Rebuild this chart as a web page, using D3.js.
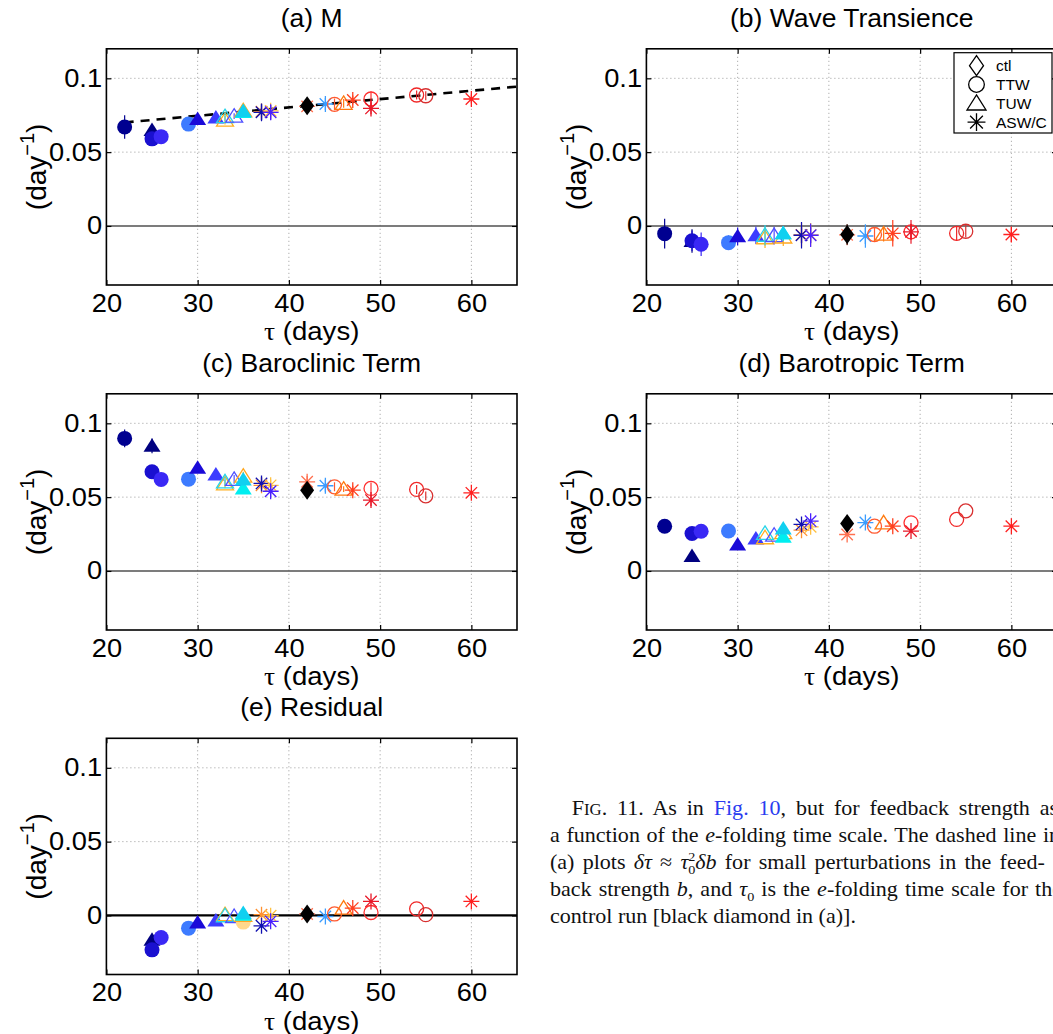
<!DOCTYPE html>
<html>
<head>
<meta charset="utf-8">
<script src="https://cdn.jsdelivr.net/npm/d3@7"></script>
<style>
  body { margin: 0; background: #fff; }
  svg { display: block; }
</style>
</head>
<body>
<svg id="fig" width="1053" height="1034"></svg>
<script>
// ---- Experiments: e-folding time scale and marker encoding ----
const tauDays = [22, 25, 25, 26, 29, 30, 32, 33, 33, 34, 35, 35, 35, 35, 37, 37, 38, 38, 42, 42, 44, 45, 46, 47, 49, 49, 54, 55, 60];
const markerKind = ["circleF", "triF", "circleF", "circleF", "circleF", "triF", "triF", "triO", "triO", "triO",
  "circleF", "triO", "triF", "triF", "star", "star", "star", "star", "star", "diamond",
  "star", "circleO", "triO", "star", "circleO", "star", "circleO", "circleO", "star"];
const markerColor = ["#000090", "#000080", "#1a10d0", "#3a28f5", "#3d7bff", "#1a0ad8", "#3c3cff", "#ffb020", "#28d4e8", "#5050ff",
  "#ffd88c", "#ffa820", "#00eef0", "#10d0f0", "#ff9030", "#1010b0", "#ffc040", "#4a20ff", "#ff7050", "#000000",
  "#3a9cff", "#ff5a30", "#ff7a10", "#ff4020", "#ff3030", "#e81828", "#f02828", "#d83030", "#ff2020"];

// ---- Feedback strength (day^-1) per panel ----
const feedbackM = [0.067, 0.065, 0.059, 0.0605, 0.069, 0.0725, 0.0735, 0.0717, 0.074, 0.0744,
  null, 0.078, 0.0772, 0.0778, 0.0775, 0.077, 0.078, 0.077, 0.081, 0.0814,
  0.0826, 0.0824, 0.083, 0.0853, 0.086, 0.0796, 0.0887, 0.0882, 0.086];
const waveTransience = [-0.0052, -0.0102, -0.010, -0.0124, -0.0113, -0.007, -0.0063, -0.008, -0.0063, -0.0065,
  null, -0.0075, -0.005, -0.005, -0.006, -0.0063, -0.006, -0.0063, -0.006, -0.0058,
  -0.0068, -0.0058, -0.0055, -0.005, -0.004, -0.004, -0.005, -0.0036, -0.0058];
const baroclinicTerm = [0.0898, 0.0848, 0.0672, 0.062, 0.0622, 0.0699, 0.0654, 0.059, 0.0604, 0.062,
  null, 0.0642, 0.0559, 0.062, 0.058, 0.0593, 0.058, 0.054, 0.0604, 0.0547,
  0.0577, 0.057, 0.0554, 0.0547, 0.0559, 0.048, 0.0552, 0.0509, 0.0529];
const barotropicTerm = [0.0303, 0.0102, 0.0254, 0.0269, 0.0271, 0.0179, 0.022, 0.0225, 0.0254, 0.0242,
  null, 0.026, 0.0231, 0.0288, 0.0276, 0.0315, 0.0299, 0.0337, 0.0247, 0.0321,
  0.0328, 0.0303, 0.0326, 0.0303, 0.0326, 0.027, 0.0349, 0.0407, 0.0303];
const residualTerm = [null, -0.0165, -0.0233, -0.0149, -0.0086, -0.0047, -0.0034, 0.0005, -0.0002, -0.0007,
  -0.0045, 0.0, 0.0005, 0.0016, 0.0005, -0.007, -0.0002, -0.004, 0.001, 0.001,
  -0.0007, 0.001, 0.005, 0.005, 0.002, 0.0095, 0.0045, 0.0005, 0.0095];

// ---- Half-widths of the uncertainty bars ----
const errM = [0.008, 0.004, 0.004, 0.004, 0.003, 0.002, 0.002, 0.003, 0.003, 0.002,
  0, 0.002, 0.002, 0.002, 0.004, 0.006, 0.004, 0.005, 0.002, 0.002,
  0.004, 0.004, 0.003, 0.003, 0.005, 0.004, 0.003, 0.003, 0.003];
const errWave = [0.010, 0.008, 0.007, 0.008, 0.005, 0.006, 0.006, 0.007, 0.007, 0.006,
  0, 0.006, 0.005, 0.005, 0.008, 0.009, 0.008, 0.008, 0.007, 0.007,
  0.008, 0.005, 0.005, 0.009, 0.005, 0.008, 0.005, 0.004, 0.005];
const errBaroclinic = [0.006, 0.005, 0.004, 0.003, 0.002, 0.003, 0.003, 0.003, 0.003, 0.003,
  0, 0.003, 0.003, 0.003, 0.003, 0.004, 0.004, 0.004, 0.004, 0.002,
  0.004, 0.003, 0.002, 0.003, 0.004, 0.004, 0.003, 0.003, 0.002];

// ---- Small-perturbation estimate shown in (a) ----
const dashTau = [22, 65];
const dashB = [0.0701, 0.0944];

// ---- Axis ticks and legend ----
const xTicks = [20, 30, 40, 50, 60];
const yTicks = [0, 0.05, 0.1];
const legendLabels = ["ctl", "TTW", "TUW", "ASW/C"];
const legendKinds = ["diamondO", "circleO", "triO", "star"];

// ---- Layout ----
const PW = 410.6, PH = 236.2;
const panels = [
  { title: "(a) M", vals: feedbackM, err: errM, x0: 106.4, y0: 48.8, dashed: true },
  { title: "(b) Wave Transience", vals: waveTransience, err: errWave, x0: 646.4, y0: 48.8, legend: true },
  { title: "(c) Baroclinic Term", vals: baroclinicTerm, err: errBaroclinic, x0: 106.4, y0: 393.8 },
  { title: "(d) Barotropic Term", vals: barotropicTerm, err: null, x0: 646.4, y0: 393.8 },
  { title: "(e) Residual", vals: residualTerm, err: null, x0: 106.4, y0: 738.3, boldZero: true }
];

const svg = d3.select("#fig");
const SANS = "'Liberation Sans', Arial, Helvetica, sans-serif";

function markerPath(kind, k) {
  switch (kind) {
    case "triF": case "triO": return `M0,${-7.5 * k}L${8.5 * k},${6 * k}L${-8.5 * k},${6 * k}Z`;
    case "diamond": return "M0,-9.5L7,0L0,9.5L-7,0Z";
    case "diamondO": return "M0,-10L7,0L0,10L-7,0Z";
    case "star": {
      const a = 8 * k, d = 5.7 * k;
      return `M${-a},0H${a}M0,${-a}V${a}M${-d},${-d}L${d},${d}M${-d},${d}L${d},${-d}`;
    }
  }
  return null;
}

function drawMarker(g, kind, color, cx, cy, k = 1) {
  const t = `translate(${cx},${cy})`;
  if (kind === "circleF") {
    g.append("circle").attr("cx", cx).attr("cy", cy).attr("r", 7.5 * k).attr("fill", color);
  } else if (kind === "circleO") {
    g.append("circle").attr("cx", cx).attr("cy", cy).attr("r", 7 * k).attr("fill", "none")
      .attr("stroke", color).attr("stroke-width", 1.3);
  } else if (kind === "triF" || kind === "diamond") {
    g.append("path").attr("transform", t).attr("d", markerPath(kind, k)).attr("fill", color);
  } else {
    g.append("path").attr("transform", t).attr("d", markerPath(kind, k)).attr("fill", "none")
      .attr("stroke", color).attr("stroke-width", 1.3);
  }
}

panels.forEach((p, pi) => {
  const x = d3.scaleLinear().domain([20, 65]).range([0, PW]);
  const y = d3.scaleLinear().domain([-0.04, 0.12]).range([PH, 0]);
  const g = svg.append("g").attr("transform", `translate(${p.x0},${p.y0})`);

  // dotted grid
  const grid = g.append("g").attr("stroke", "#9a9a9a").attr("stroke-width", 1).attr("stroke-dasharray", "1,3");
  xTicks.filter(v => v > 20).forEach(v => grid.append("line")
    .attr("x1", x(v)).attr("x2", x(v)).attr("y1", 0).attr("y2", PH));
  yTicks.filter(v => v !== 0).forEach(v => grid.append("line")
    .attr("x1", 0).attr("x2", PW).attr("y1", y(v)).attr("y2", y(v)));

  // zero line
  g.append("line").attr("x1", 0).attr("x2", PW).attr("y1", y(0)).attr("y2", y(0))
    .attr("stroke", p.boldZero ? "#000" : "#505050").attr("stroke-width", p.boldZero ? 2.2 : 1.5);

  // axes with inward ticks on all four sides
  const styleAxis = sel => {
    sel.select(".domain").remove();
    sel.selectAll(".tick line").attr("stroke", "#000").attr("stroke-width", 1.2);
    sel.selectAll("text").attr("font-family", SANS).attr("font-size", 25).attr("fill", "#000")
      .attr("transform", "scale(1.09,1)");
  };
  g.append("g").attr("transform", `translate(0,${PH})`)
    .call(d3.axisBottom(x).tickValues(xTicks).tickSizeInner(-5).tickSizeOuter(0).tickPadding(9))
    .call(styleAxis);
  g.append("g")
    .call(d3.axisTop(x).tickValues(xTicks).tickSizeInner(-5).tickSizeOuter(0).tickFormat(""))
    .call(styleAxis);
  g.append("g")
    .call(d3.axisLeft(y).tickValues(yTicks).tickSizeInner(-5).tickSizeOuter(0).tickPadding(4)
      .tickFormat(d => d === 0 ? "0" : String(d)))
    .call(styleAxis);
  g.append("g").attr("transform", `translate(${PW},0)`)
    .call(d3.axisRight(y).tickValues(yTicks).tickSizeInner(-5).tickSizeOuter(0).tickFormat(""))
    .call(styleAxis);

  // frame
  g.append("rect").attr("x", 0).attr("y", 0).attr("width", PW).attr("height", PH)
    .attr("fill", "none").attr("stroke", "#000").attr("stroke-width", 1.6);

  // dashed small-perturbation line
  if (p.dashed) {
    g.append("path")
      .attr("d", d3.line()(dashTau.map((t, i) => [x(t), y(dashB[i])])))
      .attr("fill", "none").attr("stroke", "#000").attr("stroke-width", 2.6)
      .attr("stroke-dasharray", "9,7");
  }

  // experiments
  const clipId = `clip${pi}`;
  g.append("clipPath").attr("id", clipId).append("rect").attr("width", PW).attr("height", PH);
  const marks = g.append("g").attr("clip-path", `url(#${clipId})`);
  tauDays.forEach((t, i) => {
    const v = p.vals[i];
    if (v === null) return;
    const cx = x(t), cy = y(v);
    const e = p.err ? p.err[i] : 0;
    if (e > 0) {
      marks.append("line").attr("x1", cx).attr("x2", cx).attr("y1", y(v - e)).attr("y2", y(v + e))
        .attr("stroke", markerColor[i]).attr("stroke-width", 1.2);
    }
    drawMarker(marks, markerKind[i], markerColor[i], cx, cy);
  });

  // title and axis labels
  g.append("text").attr("x", PW / 2).attr("y", -22).attr("text-anchor", "middle")
    .attr("font-family", SANS).attr("font-size", 26.5).text(p.title);

  const xl = g.append("text").attr("transform", `translate(${PW / 2},${PH + 55}) scale(1.06,1)`)
    .attr("text-anchor", "middle").attr("font-family", SANS).attr("font-size", 26);
  xl.append("tspan").attr("font-family", "'Liberation Serif', serif").text("τ");
  xl.append("tspan").text(" (days)");

  const yl = g.append("text").attr("transform", `translate(-60,${PH / 2}) rotate(-90)`)
    .attr("text-anchor", "middle").attr("font-family", SANS).attr("font-size", 28);
  yl.append("tspan").text("(day");
  yl.append("tspan").attr("dy", -12).attr("font-size", 20).text("−1");
  yl.append("tspan").attr("dy", 12).text(")");

  // legend
  if (p.legend) {
    const lg = g.append("g").attr("transform", "translate(307.6,3.9)");
    lg.append("rect").attr("width", 98).attr("height", 80.3).attr("fill", "#fff")
      .attr("stroke", "#000").attr("stroke-width", 1.2);
    legendLabels.forEach((lab, i) => {
      const ly = 13 + i * 18.8;
      drawMarker(lg, legendKinds[i], "#000", 22.5, ly, 1.12);
      lg.append("text").attr("x", 42).attr("y", ly + 5.5).attr("font-family", SANS)
        .attr("font-size", 15.5).text(lab);
    });
  }
});

// ---- Caption (justified lines) ----
const SERIF = "'Liberation Serif', 'Times New Roman', serif";
const CAP_SX = 1.05;
const captionLines = [
  { x: 571.7, right: 1058, segs: [["F"], ["IG", "sc"], [". 11. As in "], ["Fig. 10", "link"], [", but for feedback strength as"]] },
  { x: 550, right: 1060, segs: [["a function of the "], ["e", "i"], ["-folding time scale. The dashed line in"]] },
  { x: 550, right: 1052, segs: [["(a) plots "], ["δτ", "i"], [" ≈ "], ["τ", "i"], ["2", "sup"], ["0", "stack"], ["δ", "i"], ["b", "i"], [" for small perturbations in the feed-"]] },
  { x: 550, right: 1062, segs: [["back strength "], ["b", "i"], [", and "], ["τ", "i"], ["0", "sub"], [" is the "], ["e", "i"], ["-folding time scale for the"]] },
  { x: 550, right: null, segs: [["control run [black diamond in (a)]."]] }
];
const cap = svg.append("g").attr("font-family", SERIF).attr("font-size", 21).attr("fill", "#111");
captionLines.forEach((ln, li) => {
  const tx = cap.append("text")
    .attr("transform", `translate(${ln.x},${815 + li * 27}) scale(${CAP_SX},1)`);
  let shift = 0;
  ln.segs.forEach(([s, st]) => {
    const ts = tx.append("tspan").text(s);
    let target = 0;
    if (st === "i") ts.attr("font-style", "italic");
    if (st === "sc") ts.attr("font-size", 16);
    if (st === "link") ts.attr("fill", "#2a3cf0");
    if (st === "sup") { target = -8; ts.attr("font-size", 13.5); }
    if (st === "stack") { target = 5; ts.attr("font-size", 13.5).attr("dx", -6.8); }
    if (st === "sub") { target = 5; ts.attr("font-size", 13.5); }
    if (target - shift !== 0) ts.attr("dy", target - shift);
    shift = target;
  });
  if (ln.right) {
    const full = ln.segs.map(s => s[0]).join("");
    const spaces = (full.match(/ /g) || []).length;
    const natural = tx.node().getComputedTextLength();
    const ws = ((ln.right - ln.x) / CAP_SX - natural) / spaces;
    tx.attr("word-spacing", ws.toFixed(2));
  }
});
</script>
</body>
</html>
